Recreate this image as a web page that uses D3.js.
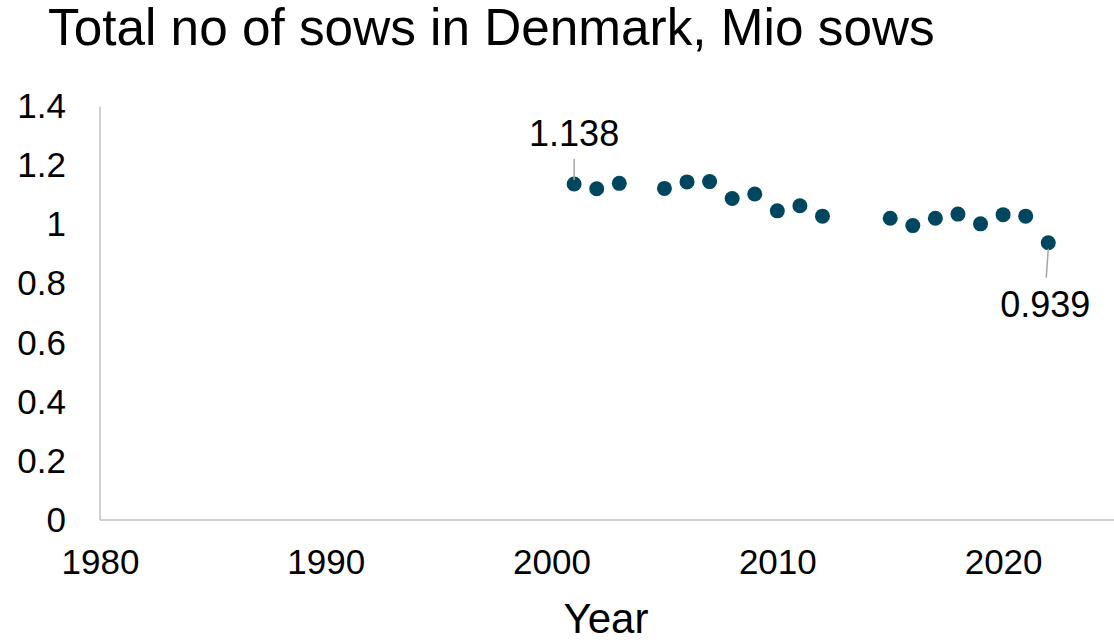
<!DOCTYPE html>
<html>
<head>
<meta charset="utf-8">
<script src="https://cdn.jsdelivr.net/npm/d3@7"></script>
<style>
  html, body { margin: 0; padding: 0; background: #ffffff; }
  svg { display: block; font-family: "Liberation Sans", Arial, sans-serif; }
</style>
</head>
<body>
<svg id="chart" width="1114" height="642"></svg>
<script>
// Total number of sows in Denmark (million sows) by year
const years  = [2001, 2002, 2003, 2005, 2006, 2007, 2008, 2009, 2010, 2011, 2012,
                2015, 2016, 2017, 2018, 2019, 2020, 2021, 2022];
const sows   = [1.138, 1.122, 1.140, 1.123, 1.145, 1.146, 1.089, 1.104, 1.047, 1.064, 1.029,
                1.022, 0.997, 1.022, 1.036, 1.003, 1.034, 1.029, 0.939];
const xTicks = [1980, 1990, 2000, 2010, 2020];
const yTicks = [0, 0.2, 0.4, 0.6, 0.8, 1, 1.2, 1.4];
const labelledYears = [2001, 2022];

const svg = d3.select("#chart");

const x = d3.scaleLinear().domain([1980, 2025]).range([100, 1116]);
const y = d3.scaleLinear().domain([0, 1.4]).range([520, 106.6]);

const axisColor = "#bfbfbf";
const dotColor = "#00465f";

// Title
svg.append("text")
  .attr("x", 48).attr("y", 45)
  .attr("font-size", 51.3)
  .attr("fill", "#000")
  .text("Total no of sows in Denmark, Mio sows");

// Y axis: line only, labels to the left
const yAxis = svg.append("g")
  .attr("transform", `translate(${x(1980)},0)`)
  .call(d3.axisLeft(y).tickValues(yTicks).tickSize(0).tickPadding(34)
        .tickFormat(d3.format("~g")));
yAxis.select(".domain").attr("stroke", axisColor).attr("stroke-width", 1.5)
  .attr("d", `M0,${y(1.4)}V${y(0)}`);
yAxis.selectAll("text")
  .attr("font-size", 35).attr("fill", "#000")
  .attr("font-family", "Liberation Sans, Arial, sans-serif");

// X axis
const xAxis = svg.append("g")
  .attr("transform", `translate(0,${y(0)})`)
  .call(d3.axisBottom(x).tickValues(xTicks).tickSize(0).tickPadding(29)
        .tickFormat(d3.format("d")));
xAxis.select(".domain").attr("stroke", axisColor).attr("stroke-width", 1.5)
  .attr("d", `M${x(1980)},0H1114`);
xAxis.selectAll("text")
  .attr("font-size", 35).attr("fill", "#000")
  .attr("font-family", "Liberation Sans, Arial, sans-serif");

// X axis title
svg.append("text")
  .attr("x", 606).attr("y", 633)
  .attr("text-anchor", "middle")
  .attr("font-size", 42)
  .attr("fill", "#000")
  .text("Year");

// Data points
const data = years.map((yr, i) => ({ year: yr, value: sows[i] }));
svg.append("g").selectAll("circle")
  .data(data)
  .join("circle")
  .attr("cx", d => x(d.year))
  .attr("cy", d => y(d.value))
  .attr("r", 7.5)
  .attr("fill", dotColor);

// Value labels with leader lines for first and last points
const fmt = d3.format(".3f");
const labelled = data.filter(d => labelledYears.includes(d.year));
const labelSpec = {
  2001: { dx: 0, lineFrom: -25, lineTo: -4, textDy: -38, lineEndDx: 0 },
  2022: { dx: -3, lineFrom: 6, lineTo: 35, textDy: 74, lineEndDx: -2 }
};
const lg = svg.append("g");
labelled.forEach(d => {
  const s = labelSpec[d.year];
  const cx = x(d.year), cy = y(d.value);
  lg.append("line")
    .attr("x1", cx).attr("y1", cy + s.lineFrom)
    .attr("x2", cx + s.lineEndDx).attr("y2", cy + s.lineTo)
    .attr("stroke", "#a6a6a6").attr("stroke-width", 1.5);
  lg.append("text")
    .attr("x", cx + s.dx).attr("y", cy + s.textDy)
    .attr("text-anchor", "middle")
    .attr("font-size", 36)
    .attr("fill", "#000")
    .text(fmt(d.value));
});
</script>
</body>
</html>
